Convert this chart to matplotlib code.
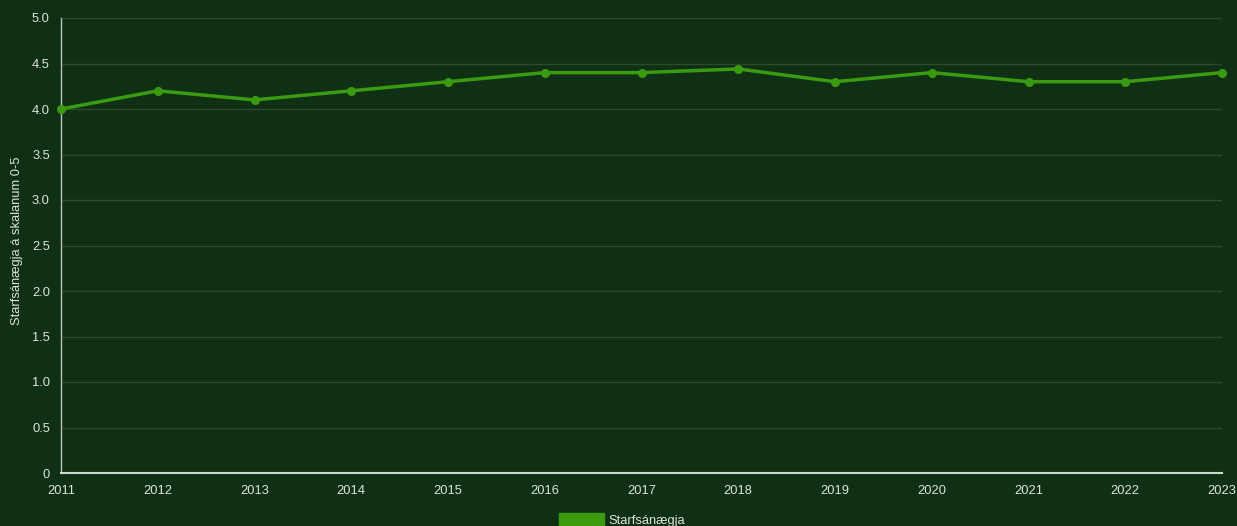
import matplotlib
matplotlib.use("Agg")
import matplotlib.pyplot as plt
from matplotlib.patches import Rectangle

years = ["2011", "2012", "2013", "2014", "2015", "2016", "2017", "2018", "2019", "2020", "2021", "2022", "2023"]
values = [4.0, 4.2, 4.1, 4.2, 4.3, 4.4, 4.4, 4.44, 4.3, 4.4, 4.3, 4.3, 4.4]
yticks = [0, 0.5, 1.0, 1.5, 2.0, 2.5, 3.0, 3.5, 4.0, 4.5, 5.0]
ytick_labels = ["0", "0.5", "1.0", "1.5", "2.0", "2.5", "3.0", "3.5", "4.0", "4.5", "5.0"]
series_name = "Starfsánægja"
ylabel = "Starfsánægja á skalanum 0-5"

bg = "#0f3015"
line_c = "#3a9a10"
txt = "#dde3dc"
plt.rcParams['font.family'] = ['Liberation Sans', 'DejaVu Sans']

W, H = 1237, 526
fig = plt.figure(figsize=(W/100, H/100), dpi=100, facecolor=bg)
ax = fig.add_axes([61/W, (H-473)/H, (1222-61)/W, (473-18)/H], facecolor=bg)

x = list(range(len(years)))
ax.plot(x, values, color=line_c, lw=2.5, marker='o', ms=5.5, clip_on=False, zorder=3)

ax.set_xlim(0, len(years)-1)
ax.set_ylim(0, 5)
ax.set_yticks(yticks)
ax.set_yticklabels(ytick_labels)
ax.set_xticks(x)
ax.set_xticklabels(years)
ax.tick_params(axis='both', length=0, colors=txt, labelsize=9.3)
ax.tick_params(axis='x', pad=9)
ax.tick_params(axis='y', pad=8)
ax.grid(axis='y', color='#2c4a2c', lw=1)
ax.set_axisbelow(True)
for s in ['top', 'right']:
    ax.spines[s].set_visible(False)
ax.spines['left'].set_color('#b8c4b6')
ax.spines['left'].set_linewidth(1)
ax.spines['bottom'].set_color('#d0d8ce')
ax.spines['bottom'].set_linewidth(1.5)
ax.set_ylabel(ylabel, color=txt, fontsize=9.3)
ax.yaxis.set_label_coords(-(61-23)/(1222-61), 0.51)

# legend
fig.patches.append(Rectangle((559/W, 0), 45/W, 13/H, transform=fig.transFigure, color=line_c))
fig.text(608/W, 5/H, series_name, color=txt, fontsize=9.3, va='center', ha='left')

fig.savefig("out.png", dpi=100, facecolor=bg)
